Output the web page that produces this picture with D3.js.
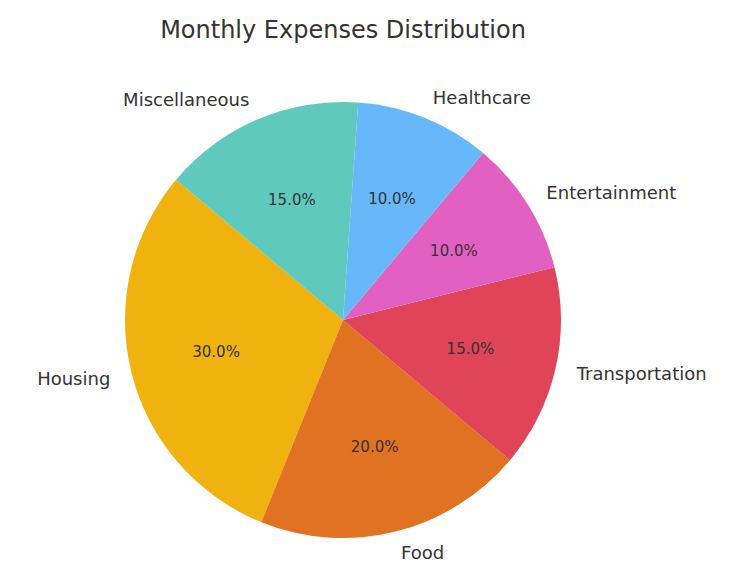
<!DOCTYPE html>
<html><head><meta charset="utf-8">
<script src="https://cdn.jsdelivr.net/npm/d3@7"></script>
<style>body{margin:0;background:#fff}</style>
</head><body>
<svg id="c" width="736" height="577"></svg>
<script>
const categories = ["Housing", "Food", "Transportation", "Entertainment", "Healthcare", "Miscellaneous"];
const values = [30, 20, 15, 10, 10, 15];
const colors = ["#f0b20e", "#e07222", "#e04458", "#e260c2", "#66b8fb", "#60c9bd"];

const cx = 343, cy = 320, r = 218;
const svg = d3.select("#c");
const font = "DejaVu Sans, sans-serif";

svg.append("text").attr("x", 343).attr("y", 38).attr("text-anchor", "middle")
  .style("font-family", font).style("font-size", "24px").style("fill", "#333")
  .text("Monthly Expenses Distribution");

// matplotlib startangle 140, counterclockwise
const start = (90 - 140) * Math.PI / 180;
const pie = d3.pie().sort(null).startAngle(start).endAngle(start - 2 * Math.PI);
const arcs = pie(values);
const arc = d3.arc().innerRadius(0).outerRadius(r);
const g = svg.append("g").attr("transform", `translate(${cx},${cy})`);

g.selectAll("path").data(arcs).enter().append("path")
  .attr("d", arc).attr("fill", (d, i) => colors[i]);

const total = d3.sum(values);
const mid = d => (d.startAngle + d.endAngle) / 2;

g.selectAll("text.pct").data(arcs).enter().append("text")
  .attr("x", d => 0.6 * r * Math.sin(mid(d)))
  .attr("y", d => -0.6 * r * Math.cos(mid(d)))
  .attr("text-anchor", "middle").attr("dominant-baseline", "central")
  .style("font-family", font).style("font-size", "15px").style("fill", "#333")
  .text(d => (d.value / total * 100).toFixed(1) + "%");

g.selectAll("text.lbl").data(arcs).enter().append("text")
  .attr("x", d => 1.1 * r * Math.sin(mid(d)))
  .attr("y", d => -1.1 * r * Math.cos(mid(d)))
  .attr("text-anchor", d => Math.sin(mid(d)) < 0 ? "end" : "start")
  .attr("dominant-baseline", "central")
  .style("font-family", font).style("font-size", "18px").style("fill", "#333")
  .text((d, i) => categories[i]);
</script>
</body></html>
